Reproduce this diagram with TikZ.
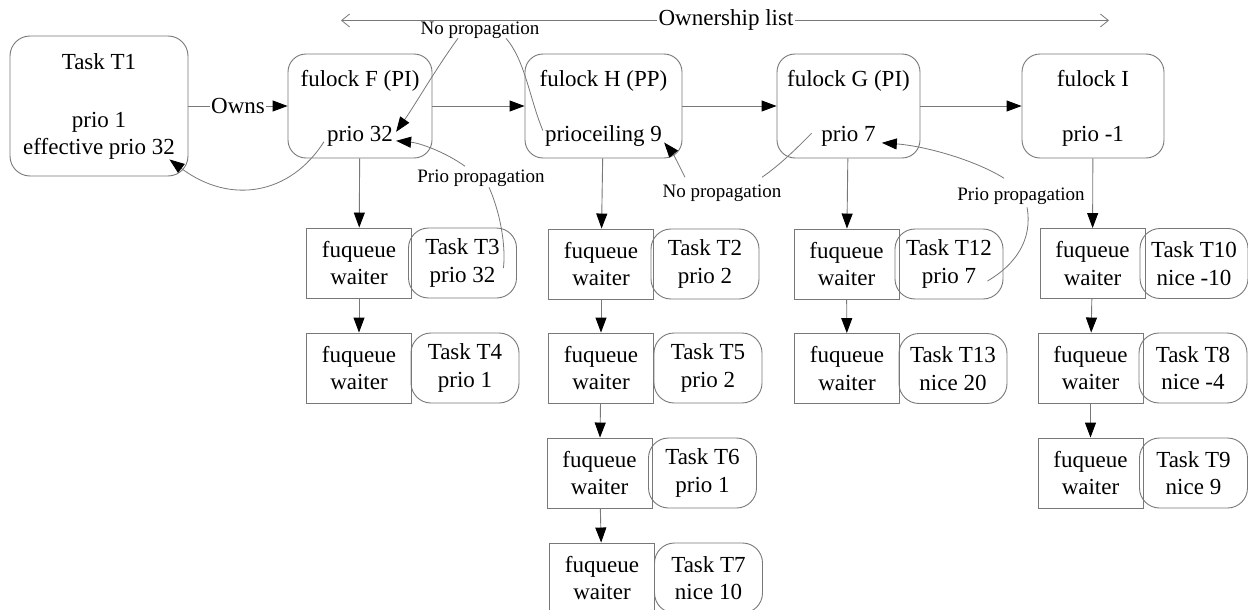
\documentclass[tikz,border=0pt]{standalone}
\usepackage{fontspec}
\setmainfont{Liberation Serif}
\usetikzlibrary{arrows.meta,calc}
\definecolor{lg}{RGB}{120,120,120}
\newcommand\bigfnt{\fontsize{23}{27.5}\selectfont}
\newcommand\smallfnt{\fontsize{19}{23}\selectfont}
\begin{document}
\begin{tikzpicture}[x=1pt,y=-1pt,
 box/.style={draw=lg, line width=0.9pt},
 lockbox/.style={box, rounded corners=18pt, minimum height=104pt, inner sep=0pt},
 wbox/.style={box, minimum width=105pt, minimum height=70pt, inner sep=0pt, align=center, font=\bigfnt},
 tbox/.style={box, rounded corners=20pt, minimum width=108pt, minimum height=70pt, inner sep=0pt, align=center, font=\bigfnt},
 txt/.style={inner sep=1pt, font=\bigfnt, anchor=base},
 lbl/.style={inner sep=1pt, font=\smallfnt, anchor=base},
 conn/.style={draw=lg, line width=0.9pt, -{Triangle[length=15pt,width=11pt,color=black]}},
 curve/.style={draw=lg, line width=0.8pt},
 carrow/.style={curve, -{Triangle[length=15pt,width=11pt,color=black]}},
 ownarr/.style={draw=lg, line width=0.8pt, -{Straight Barb[length=8pt,width=13pt]}}
]
\fill[white] (0,0) rectangle (1248,610);
\useasboundingbox (0,0) rectangle (1248,610);

% Task T1
\node[box, rounded corners=20pt, minimum width=178pt, minimum height=140pt] (T1) at (99,106) {};
\node[txt] (T1a) at (99,70) {Task T1};
\node[txt] (T1b) at (99,127) {prio 1};
\node[txt] (T1c) at (99,154) {effective prio 32};

% fulocks
\node[lockbox, minimum width=144pt] (F) at (360,106) {};
\node[txt] (Ft) at (360,86) {fulock F (PI)};
\node[txt] (Fp) at (360,141) {prio 32};
\node[lockbox, minimum width=157pt] (H) at (603.5,106) {};
\node[txt] (Ht) at (603.5,86) {fulock H (PP)};
\node[txt] (Hp) at (603.5,141) {prioceiling 9};
\node[lockbox, minimum width=143pt] (G) at (848.5,106) {};
\node[txt] (Gt) at (848.5,86) {fulock G (PI)};
\node[txt] (Gp) at (848.5,141) {prio 7};
\node[lockbox, minimum width=142pt] (I) at (1093,106) {};
\node[txt] (It) at (1093,86) {fulock I};
\node[txt] (Ip) at (1093,141) {prio -1};

% waiters F
\node[wbox] (wF1) at (359,263) {fuqueue\\waiter};
\node[wbox] (wF2) at (359,368) {fuqueue\\waiter};
\node[tbox] (tF1) at (462.5,263) {Task T3\\prio 32};
\node[tbox] (tF2) at (465,368) {Task T4\\prio 1};
% waiters H
\node[wbox] (wH1) at (601,264) {fuqueue\\waiter};
\node[wbox] (wH2) at (601,368) {fuqueue\\waiter};
\node[wbox] (wH3) at (599.5,473) {fuqueue\\waiter};
\node[wbox] (wH4) at (602,578) {fuqueue\\waiter};
\node[tbox] (tH1) at (705,264) {Task T2\\prio 2};
\node[tbox] (tH2) at (708,368) {Task T5\\prio 2};
\node[tbox] (tH3) at (702.5,473) {Task T6\\prio 1};
\node[tbox] (tH4) at (708.5,578) {Task T7\\nice 10};
% waiters G
\node[wbox] (wG1) at (846.5,264) {fuqueue\\waiter};
\node[wbox] (wG2) at (847,368.5) {fuqueue\\waiter};
\node[tbox] (tG1) at (949,264) {Task T12\\prio 7};
\node[tbox] (tG2) at (953,368.5) {Task T13\\nice 20};
% waiters I
\node[wbox] (wI1) at (1092.5,263.5) {fuqueue\\waiter};
\node[wbox] (wI2) at (1090.5,368) {fuqueue\\waiter};
\node[wbox] (wI3) at (1090.5,473) {fuqueue\\waiter};
\node[tbox] (tI1) at (1194,263.5) {Task T10\\nice -10};
\node[tbox] (tI2) at (1193,368) {Task T8\\nice -4};
\node[tbox] (tI3) at (1193.5,473) {Task T9\\nice 9};

% ownership list
\node[txt] (own) at (726,26) {Ownership list};
\coordinate (ownL) at (341,20.6);
\coordinate (ownR) at (1109,20.6);
\draw[ownarr] (own.west) -- (own.west -| ownL);
\draw[ownarr] (own.east) -- (own.east -| ownR);

% owns and list
\draw[conn] (T1) -- node[fill=white, inner sep=1pt, font=\bigfnt] (ownslbl) {Owns} (F);
\draw[conn] (F) -- (H);
\draw[conn] (H) -- (G);
\draw[conn] (G) -- (I);

% down connectors
\draw[conn] (F) -- (wF1);
\draw[conn] (wF1) -- (wF2);
\draw[conn] (H) -- (wH1);
\draw[conn] (wH1) -- (wH2);
\draw[conn] (wH2) -- (wH3);
\draw[conn] (wH3) -- (wH4);
\draw[conn] (G) -- (wG1);
\draw[conn] (wG1) -- (wG2);
\draw[conn] (I) -- (wI1);
\draw[conn] (wI1) -- (wI2);
\draw[conn] (wI2) -- (wI3);

% propagation labels
\node[lbl] (np1) at (480,35) {No propagation};
\node[lbl] (pp1) at (481,182) {Prio propagation};
\node[lbl] (np2) at (722,197) {No propagation};
\node[lbl] (pp2) at (1021,200) {Prio propagation};

\draw[carrow] ($(np1.south)+(-22,-2)$) .. controls (435,70) and (415,105) .. ($(Fp.east)+(2,-4)$);
\draw[curve] ($(np1.south)+(26,-2)$) .. controls (525,60) and (530,100) .. ($(Hp.west)+(-1,-5)$);

\draw[carrow] ($(pp1.north)+(-16,-2)$) .. controls (445,152) and (420,143) .. ($(Fp.east)+(2,5)$);
\draw[curve] ($(pp1.south)+(8,0)$) .. controls (500,212) and (506,245) .. ($(tF1.east)+(-13.5,5)$);

\draw[carrow] ($(Fp.west)+(-2,6)$) .. controls (290,195) and (230,205) .. ($(T1.south east)+(-19,-17)$);

\draw[carrow] ($(np2.north)+(-37,-6)$) .. controls (678,163) and (672,152) .. ($(Hp.east)+(1,7)$);
\draw[curve] ($(np2.north)+(40,-6)$) .. controls (780,165) and (798,147) .. ($(Gp.west)+(-8.5,-2.6)$);

\draw[carrow] ($(pp2.north)+(-17,-8)$) .. controls (975,160) and (925,146) .. ($(Gp.east)+(5,7)$);
\draw[curve] ($(pp2.south)+(6,2)$) .. controls (1033,240) and (1015,265) .. ($(tG1.east)+(-16,17)$);
\end{tikzpicture}
\end{document}
